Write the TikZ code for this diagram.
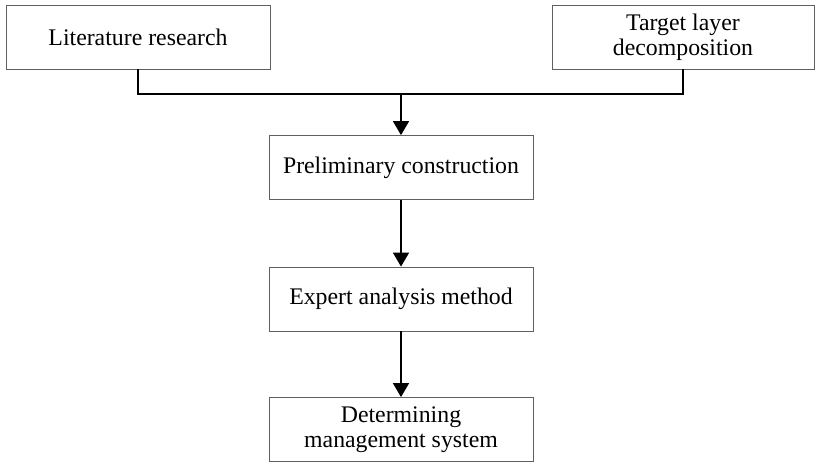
\documentclass[tikz,border=0pt]{standalone}
\usepackage{fontspec}
\setmainfont{Liberation Serif}
\usetikzlibrary{positioning, arrows.meta, shapes}

\begin{document}
\begin{tikzpicture}[x=1pt,y=-1pt]
			\tikzstyle{every node}=[draw=gray!75!black,line width=0.8pt,shape=rectangle,minimum width=264pt,minimum height=64pt,align=center,font=\fontsize{23.8}{25}\selectfont];
			\tikzstyle{flow}=[line width=1.6pt,-{Triangle[width=16pt,length=14pt]}];
			\useasboundingbox (0,0) rectangle (815,462);
			\node (lit) at (138,37) {Literature research};
			\node[minimum width=262pt] (tgt) at (683,37) {Target layer\\decomposition};
			\node (pre) at (401,167.5) {Preliminary construction};
			\node (exp) at (401,299) {Expert analysis method};
			\node (det) at (401,429.5) {Determining\\management system};
			\coordinate (j) at (401,94);
			\draw[line width=1.6pt] (lit) |- (j) -| (tgt);
			\draw[flow] (j) -- (pre);
			\draw[flow] (pre) -- (exp);
			\draw[flow] (exp) -- (det);
		\end{tikzpicture}
\end{document}
